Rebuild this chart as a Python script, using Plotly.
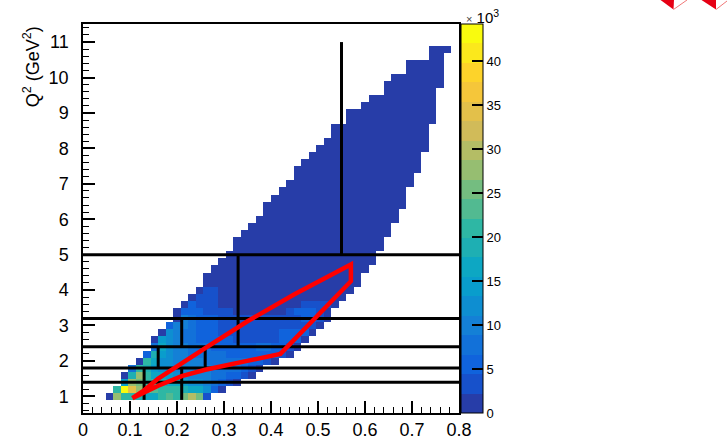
import plotly.graph_objects as go

# ---- histogram binning (x_B horizontally, Q^2 vertically) ----
X_LO, X_STEP, N_X = 0.0, 0.016, 50
Q2_LO, Q2_STEP, N_Q2 = 0.5, 0.2, 55
FIRST_ROW = 2  # first filled Q^2 row (0.9 - 1.1 GeV^2)

# first / last filled x-bin index of every Q^2 row, from FIRST_ROW upward
row_xmin = [3, 4, 5, 5, 6, 7, 8, 9, 9, 10, 11, 12, 12, 13, 14, 15, 16, 16, 17, 18,
            19, 20, 20, 21, 22, 23, 24, 24, 25, 26, 27, 28, 28, 29, 30, 31, 32, 33, 33, 35,
            35, 37, 38, 40, 40, 41, 43, 43, 46, 46]
row_xmax = [16, 18, 20, 22, 23, 25, 27, 28, 29, 30, 31, 32, 32, 33, 34, 35, 36, 36, 37, 38,
            38, 39, 39, 40, 40, 41, 41, 42, 42, 42, 43, 43, 44, 44, 44, 45, 45, 45, 45, 46,
            46, 46, 46, 46, 47, 47, 47, 47, 47, 48]

# bin contents (units of 10^3) of the low-Q^2 rows, left to right
low_rows = [
    [2.0, 28, 22, 20, 18, 17, 17, 22, 24, 21, 25, 30, 26, 3.0],
    [20, 44.2, 34, 28, 25, 23, 21, 20, 20, 19, 16, 16, 12, 5, 1.5],
    [14, 27, 25, 22, 20, 19, 17, 16, 15, 13, 12, 10, 8, 6, 4, 1.5],
    [2, 18, 27, 21, 17, 16, 14, 13, 12, 11, 10, 9, 8, 7, 6, 5, 3, 1.5],
    [7, 22, 18, 15, 13, 12, 11, 10, 10, 9, 9, 8, 8, 7, 7, 6, 4, 1.5],
    [2, 20, 16, 13, 12, 11, 10, 9, 9, 8, 8, 8, 7, 7, 7, 6, 6, 4, 1.5],
    [5, 18, 14, 12, 10, 9, 8, 8, 7, 7, 7, 6, 6, 6, 6, 6, 6, 5, 4, 1.5],
    [7, 16, 13, 11, 9, 8, 7, 7, 6, 6, 6, 5, 5, 5, 7, 7, 6, 5, 4, 1.5],
    [2, 14, 12, 10, 8, 7, 6, 6, 5, 5, 5, 4, 4, 4, 4, 4, 4, 6, 6, 5, 2],
    [2, 12, 10, 8, 7, 6, 5, 5, 4, 4, 4, 4, 3.5, 3.5, 3.5, 3.5, 5, 5.5, 5.5, 5, 2],
    [5, 11, 9, 7, 6, 5, 5, 4, 4, 3.5, 3.5, 3, 3, 3, 3, 3, 3.5, 4, 4, 3.5, 1.5],
    [2, 9, 7, 6, 5, 4.5, 4, 3.5, 3, 3, 2.5, 2.5, 2.5, 2.5, 2.5, 3, 4, 4.5, 4.5, 3, 1.2],
    [1.5, 6, 5, 4.5, 4, 3.5, 3, 2.5, 2.2, 2, 2, 2, 2, 2, 2, 2.5, 4.5, 5, 5, 4, 1.2],
    [1.5, 4.5, 3.5, 3, 2.5, 2.2, 2, 1.8, 1.8, 1.7, 1.7, 1.7, 1.6, 1.6, 1.6, 1.8, 2.5, 3, 3, 2.5, 1.2],
    [1.5, 3.5, 3, 2.5, 2, 1.8, 1.7, 1.6, 1.5, 1.5, 1.5, 1.5, 1.5, 1.5, 1.5, 1.5, 1.8, 2, 2, 1.8, 1.0],
    [1.3, 3, 2.5, 2, 1.8, 1.6, 1.5, 1.5, 1.4, 1.4, 1.4, 1.4, 1.4, 1.4, 1.4, 1.4, 1.5, 1.6, 1.6, 1.4, 1.0],
    [1.3, 2.0, 1.9, 1.8, 1.7, 1.5, 1.4, 1.4, 1.3, 1.3, 1.3, 1.3, 1.3, 1.3, 1.3, 1.3, 1.3, 1.4, 1.4, 1.3, 1.0],
    [1.0, 1.9, 1.8, 1.7, 1.6, 1.5, 1.4, 1.3, 1.3, 1.2, 1.2, 1.2, 1.2, 1.2, 1.2, 1.2, 1.2, 1.3, 1.3, 1.2, 0.9],
    [1.0, 1.8, 1.7, 1.6, 1.5, 1.4, 1.3, 1.2, 1.2, 1.2, 1.2, 1.1, 1.1, 1.1, 1.1, 1.1, 1.1, 1.2, 1.2, 1.1, 0.9],
]
# higher-Q^2 rows sit entirely in the lowest colour band: one level per row
high_row_level = [1.1, 1.1, 1.0, 1.0, 1.0, 0.9, 0.9, 0.9, 0.9, 0.8, 0.8, 0.8, 0.8, 0.7, 0.7, 0.7,
                  0.7, 0.6, 0.6, 0.6, 0.6, 0.5, 0.5, 0.5, 0.5, 0.4, 0.4, 0.4, 0.3, 0.3, 0.3]

Z_MAX = 44.2          # palette top (10^3)
N_CONTOURS = 20
cbar_ticks = [0, 5, 10, 15, 20, 25, 30, 35, 40]

# analysis bin boundaries
q2_cuts = [1.4, 1.8, 2.4, 3.2, 5.0]
x_cut_segments = [  # (x, Q2 from, Q2 to)
    (0.13, 0.9, 1.8), (0.21, 0.9, 1.8),
    (0.16, 1.8, 2.4), (0.26, 1.8, 2.4),
    (0.21, 2.4, 3.2), (0.33, 2.4, 5.0),
    (0.55, 5.0, 11.0),
]

# acceptance contour
region_x = [0.105, 0.13, 0.16, 0.21, 0.26, 0.35, 0.45, 0.57, 0.57, 0.42, 0.33, 0.26, 0.21, 0.16, 0.105]
region_q2 = [0.95, 1.17, 1.5, 1.94, 2.36, 3.12, 3.88, 4.72, 4.25, 2.2, 1.95, 1.75, 1.57, 1.3, 0.95]

# ---- build the 2D array ----
z = [[None] * N_X for _ in range(N_Q2)]
for k, (i0, i1) in enumerate(zip(row_xmin, row_xmax)):
    j = FIRST_ROW + k
    if k < len(low_rows):
        vals = low_rows[k]
    else:
        vals = [high_row_level[k - len(low_rows)]] * (i1 - i0 + 1)
    for i, v in zip(range(i0, i1 + 1), vals):
        z[j][i] = v

x_centres = [X_LO + X_STEP * (i + 0.5) for i in range(N_X)]
q2_centres = [Q2_LO + Q2_STEP * (j + 0.5) for j in range(N_Q2)]

# ROOT "kBird" palette, sampled the way a 20-contour COLZ picks its colours
stops = [0.0, 0.125, 0.25, 0.375, 0.5, 0.625, 0.75, 0.875, 1.0]
red = [0.2082, 0.0592, 0.0780, 0.0232, 0.1802, 0.5301, 0.8186, 0.9956, 0.9764]
green = [0.1664, 0.3599, 0.5041, 0.6419, 0.7178, 0.7492, 0.7328, 0.7862, 0.9832]
blue = [0.5293, 0.8684, 0.8385, 0.7914, 0.6425, 0.4662, 0.3499, 0.1968, 0.0539]


def bird(f):
    for a in range(len(stops) - 1):
        if f <= stops[a + 1]:
            t = (f - stops[a]) / (stops[a + 1] - stops[a])
            break
    c = [ch[a] + (ch[a + 1] - ch[a]) * t for ch in (red, green, blue)]
    return "rgb(%d,%d,%d)" % tuple(round(255 * v) for v in c)


colorscale = []
for band in range(N_CONTOURS):
    idx = int((band + 0.99) * 255 / N_CONTOURS)
    col = bird(min(idx, 254) / 254)
    colorscale.append([band / N_CONTOURS, col])
    colorscale.append([(band + 1) / N_CONTOURS, col])

FONT = "Liberation Sans, Arial, Helvetica, sans-serif"

fig = go.Figure()
fig.add_trace(go.Heatmap(
    x=x_centres, y=q2_centres, z=z,
    zmin=0, zmax=Z_MAX, colorscale=colorscale,
    hoverongaps=False,
    colorbar=dict(
        thickness=22, thicknessmode="pixels",
        len=1, lenmode="fraction",
        x=1.0053, xanchor="left", xpad=0,
        y=0.5, yanchor="middle", ypad=0,
        tickvals=cbar_ticks, ticktext=[str(t) for t in cbar_ticks],
        ticks="inside", ticklen=11, tickwidth=2, tickcolor="black",
        outlinewidth=1, outlinecolor="black",
        tickfont=dict(family=FONT, size=13, color="black"),
    ),
))

# analysis-bin grid
gx, gy = [], []
for q in q2_cuts:
    gx += [0.0, 0.8, None]
    gy += [q, q, None]
for xv, qa, qb in x_cut_segments:
    gx += [xv, xv, None]
    gy += [qa, qb, None]
fig.add_trace(go.Scatter(x=gx, y=gy, mode="lines",
                         line=dict(color="black", width=3), hoverinfo="skip"))

fig.add_trace(go.Scatter(x=region_x, y=region_q2, mode="lines",
                         line=dict(color="rgb(255,0,0)", width=4.5), hoverinfo="skip"))

axis_common = dict(
    showgrid=False, zeroline=False,
    showline=True, linecolor="black", linewidth=1.5, mirror=True,
    ticks="inside", ticklen=12, tickwidth=1.5, tickcolor="black",
    tickfont=dict(family=FONT, size=18, color="black"),
    automargin=False,
)
fig.update_xaxes(range=[0, 0.8], dtick=0.1, tick0=0,
                 minor=dict(dtick=0.02, ticks="inside", ticklen=6, tickwidth=1.2, tickcolor="black"),
                 ticklabelstandoff=0, **axis_common)
fig.update_yaxes(range=[0.53, 11.51], dtick=1, tick0=0,
                 minor=dict(dtick=0.2, ticks="inside", ticklen=6, tickwidth=1.2, tickcolor="black"),
                 ticklabelstandoff=9, **axis_common)

fig.add_annotation(
    text="Q<sup>2</sup> (GeV<sup>2</sup>)", textangle=-90,
    xref="paper", yref="paper", x=-0.136, y=1.0, xanchor="center", yanchor="top",
    showarrow=False, font=dict(family=FONT, size=18, color="black"),
)
fig.add_annotation(
    text="<span style='font-size:11px;color:#444'>\u00d7</span> 10<sup>3</sup>",
    xref="paper", yref="paper",
    x=1.014, y=1.02, xanchor="left", yanchor="middle",
    showarrow=False, font=dict(family=FONT, size=15, color="black"),
)

# corner logo fragments
for px0, px1, tipx, tailx, taily in [(660.5, 674, 673.5, 687, 0), (701.5, 716, 716, 727, 1)]:
    to_x = lambda p: (p - 83) / 376
    to_y = lambda p: (413 - p) / 389
    fig.add_shape(type="path", xref="paper", yref="paper",
                  path="M %f %f L %f %f L %f %f Z" % (to_x(px0), to_y(0), to_x(px1), to_y(0),
                                                      to_x(tipx), to_y(9.5)),
                  fillcolor="rgb(230,0,20)", line=dict(width=0))
    fig.add_shape(type="line", xref="paper", yref="paper",
                  x0=to_x(tipx), y0=to_y(9.5), x1=to_x(tailx), y1=to_y(taily),
                  line=dict(color="rgb(240,120,120)", width=1))

fig.update_layout(
    width=728, height=448,
    margin=dict(l=83, r=269, t=24, b=35, pad=0, autoexpand=False),
    paper_bgcolor="white", plot_bgcolor="white",
    showlegend=False,
    font=dict(family=FONT, color="black"),
)

fig.write_html("out.html")
